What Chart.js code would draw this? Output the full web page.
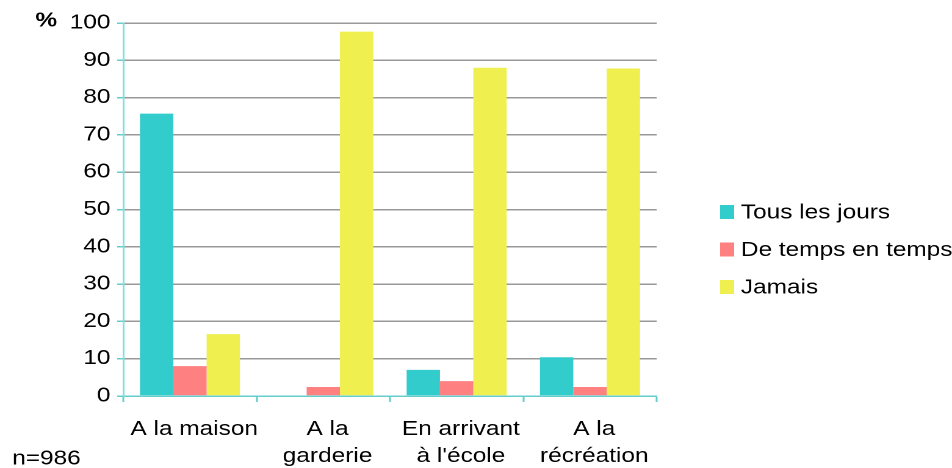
<!DOCTYPE html>
<html>
<head>
<meta charset="utf-8">
<script src="https://cdn.jsdelivr.net/npm/chart.js@4"></script>
<style>
  html, body { margin: 0; padding: 0; background: #fff; overflow: hidden; }
  #wrap { width: 780px; height: 468px; transform: scaleX(1.220513); transform-origin: 0 0; }
  canvas { display: block; }
</style>
</head>
<body>
<div id="wrap"><canvas id="c" width="780" height="468" style="width:780px;height:468px"></canvas></div>
<script>
const categories = [['A la maison'], ['A la', 'garderie'], ['En arrivant', "à l'école"], ['A la', 'récréation']];
const seriesNames = ['Tous les jours', 'De temps en temps', 'Jamais'];
const tousLesJours = [75.7, 0, 7.0, 10.4];
const deTempsEnTemps = [8.0, 2.4, 4.0, 2.4];
const jamais = [16.6, 97.7, 88.0, 87.8];
const seriesColors = ['#33CCCC', '#FF8080', '#F0EF50'];
const yTicks = [0, 10, 20, 30, 40, 50, 60, 70, 80, 90, 100];
const unitLabel = '%';
const noteLabel = 'n=986';

const FONT = '"Liberation Sans", Arial, Helvetica, sans-serif';

const extras = {
  id: 'extras',
  afterDraw(chart) {
    const ctx = chart.ctx;
    ctx.save();
    ctx.fillStyle = '#000';
    ctx.textBaseline = 'middle';
    ctx.textAlign = 'left';
    ctx.font = 'bold 20px ' + FONT;
    ctx.fillText(unitLabel, 29, 21);
    ctx.font = '20px ' + FONT;
    ctx.fillText(noteLabel, 10, 459);
    const ys = [212, 249.5, 287];
    chart.data.datasets.forEach((ds, i) => {
      ctx.fillStyle = ds.backgroundColor;
      ctx.fillRect(590, ys[i] - 7, 11.5, 14);
      ctx.fillStyle = '#000';
      ctx.fillText(ds.label, 607, ys[i] + 1);
    });
    ctx.restore();
  }
};

new Chart(document.getElementById('c'), {
  type: 'bar',
  data: {
    labels: categories,
    datasets: [
      { label: seriesNames[0], data: tousLesJours, backgroundColor: seriesColors[0] },
      { label: seriesNames[1], data: deTempsEnTemps, backgroundColor: seriesColors[1] },
      { label: seriesNames[2], data: jamais, backgroundColor: seriesColors[2] }
    ]
  },
  options: {
    responsive: false,
    animation: false,
    devicePixelRatio: 2,
    categoryPercentage: 0.75,
    barPercentage: 1,
    layout: { padding: { top: 23, right: 242, left: 0, bottom: 0 } },
    plugins: { legend: { display: false }, tooltip: { enabled: false } },
    scales: {
      x: {
        afterFit(scale) { scale.height = 72; },
        grid: { drawOnChartArea: false, drawTicks: true, tickLength: 6, tickColor: '#66CCCC', tickWidth: 1.5 },
        border: { color: '#66CCCC', width: 1.5 },
        ticks: { color: '#000', font: { family: FONT, size: 20, lineHeight: 1.35 }, padding: 14, labelOffset: 3.5, maxRotation: 0, autoSkip: false }
      },
      y: {
        min: 0, max: 100,
        afterFit(scale) { scale.width = 101; },
        afterBuildTicks(scale) { scale.ticks = yTicks.map(v => ({ value: v })); },
        grid: { color: '#999999', lineWidth: 1.5, tickColor: '#66CCCC', tickLength: 5, tickWidth: 1.5 },
        border: { color: '#80DEDE', width: 1.5 },
        ticks: { color: '#000', font: { family: FONT, size: 20 }, padding: 5.5 }
      }
    }
  },
  plugins: [extras]
});
</script>
</body>
</html>
